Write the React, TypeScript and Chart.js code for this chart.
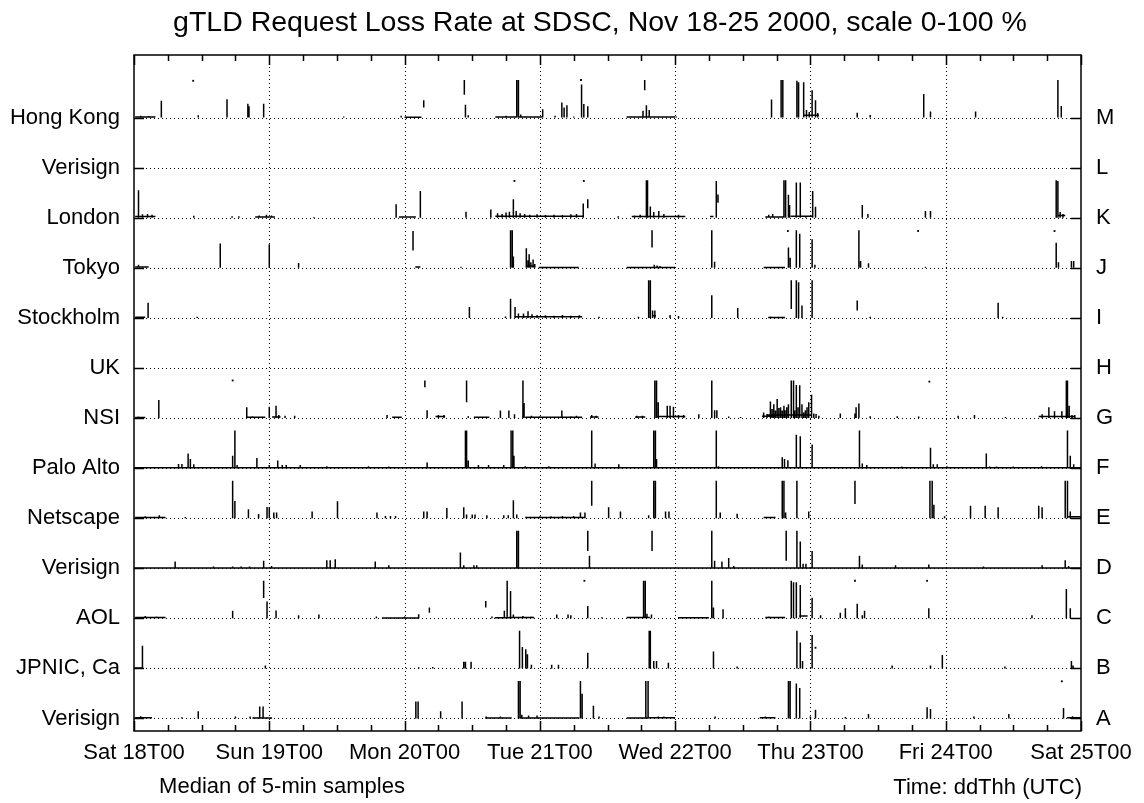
import React, { useEffect, useRef } from "react";
import { Chart, registerables } from "chart.js";

Chart.register(...registerables);

const chartTitle = "gTLD Request Loss Rate at SDSC, Nov 18-25 2000, scale 0-100 %";
const xNote = "Median of 5-min samples";
const xTitle = "Time: ddThh (UTC)";

// bottom (A) to top (M)
const rowNames = ["Verisign", "JPNIC, Ca", "AOL", "Verisign", "Netscape", "Palo Alto", "NSI", "UK", "Stockholm", "Tokyo", "London", "Verisign", "Hong Kong"];
const rowLetters = ["A", "B", "C", "D", "E", "F", "G", "H", "I", "J", "K", "L", "M"];
const dayLabels = ["Sat 18T00", "Sun 19T00", "Mon 20T00", "Tue 21T00", "Wed 22T00", "Thu 23T00", "Fri 24T00", "Sat 25T00"];

// spikes: [hour, loss %]; floats: [hour, low %, high %]; runs: [hour0, hour1, loss %]; dots: [hour, loss %]

// M  Hong Kong
const spikesM = [[1.2, 5], [2.6, 4], [4.85, 45], [11.4, 6], [16.5, 49], [20.2, 37], [20.4, 30], [23.0, 37], [37.2, 3], [47.4, 5], [58.8, 34], [59.3, 6], [66.0, 5], [67.9, 100], [68.2, 100], [68.6, 8], [72.5, 22], [74.7, 5], [75.9, 40], [76.3, 27], [76.8, 33], [78.0, 3], [79.4, 88], [79.8, 36], [80.5, 30], [90.3, 18], [90.9, 33], [91.4, 20], [96.2, 3], [113.1, 48], [114.8, 100], [115.1, 100], [117.6, 98], [117.9, 94], [118.8, 94], [119.3, 20], [119.8, 15], [120.3, 73], [120.9, 46], [121.3, 12], [128.3, 13], [130.6, 7], [140.1, 63], [141.3, 16], [149.3, 16], [163.9, 100], [164.5, 31]];
const floatsM = [[51.4, 27, 46], [58.6, 61, 100], [90.6, 73, 100]];
const runsM = [[0.2, 3.8, 1.5], [48, 51, 1], [64.1, 67.9, 1.5], [68.2, 72.4, 1.5], [87.4, 96, 1.5], [118.9, 121.5, 6]];
const dotsM = [[10.5, 98], [79.3, 100]];

// L  Verisign
const spikesL: number[][] = [];
const floatsL: number[][] = [];
const runsL: number[][] = [];
const dotsL: number[][] = [];

// K  London
const spikesK = [[0.8, 73], [1.5, 9], [2.4, 10], [3.2, 8], [10.6, 5], [17.4, 4], [18.6, 4], [22.2, 6], [23.5, 8], [24.4, 6], [31.9, 2], [46.5, 36], [48, 4], [50.8, 71], [58.9, 16], [63.3, 22], [64.5, 12], [65.3, 10], [66, 14], [66.6, 16], [67.3, 49], [67.8, 18], [68.5, 12], [69.3, 10], [70.2, 8], [71.5, 9], [73, 7], [74.5, 8], [76, 7], [77.5, 9], [78.5, 10], [79.7, 38], [85.9, 4], [88.8, 6], [89.8, 8], [90.9, 100], [91.1, 100], [91.6, 30], [92.2, 15], [93.1, 18], [94, 10], [96.6, 8], [103.3, 98], [112.6, 8], [113.3, 10], [115.3, 100], [115.6, 100], [116.1, 61], [116.3, 34], [117.5, 94], [118.2, 94], [119.2, 6], [120.4, 71], [120.9, 29], [129.2, 34], [130.2, 10], [140.4, 18], [141.3, 18], [163.6, 100], [163.9, 98], [164.3, 15], [164.8, 10]];
const floatsK = [[80.5, 25, 49], [103.6, 40, 62]];
const runsK = [[0.2, 3.8, 3], [21.5, 25, 2], [47, 50, 2], [64.1, 79.8, 4], [88.3, 97.8, 3], [102.2, 102.8, 3], [112, 115.3, 2], [116.5, 120.3, 4], [164, 165.2, 6]];
const dotsK = [[67.5, 98], [79.8, 98]];

// J  Tokyo
const spikesJ = [[0.8, 8], [15.3, 65], [24.0, 63], [29.2, 13], [58, 3], [66.8, 100], [67.1, 100], [67.3, 30], [69.6, 52], [69.9, 20], [70.1, 36], [70.4, 15], [70.8, 22], [71.1, 10], [92.3, 8], [92.8, 6], [93.3, 5], [102.5, 100], [103, 16], [116.1, 54], [116.4, 27], [117.5, 100], [118.1, 91], [120.3, 76], [120.8, 8], [128.6, 100], [128.9, 18], [130.3, 12], [140.4, 3], [163.6, 67], [164, 15], [166.3, 18], [166.7, 18]];
const floatsJ = [[49.5, 46, 98], [91.9, 54, 100]];
const runsJ = [[0.2, 2.6, 2], [49.9, 50.8, 2], [69.7, 71.2, 5], [71.8, 78.9, 1], [87.4, 96, 1], [111.7, 115.5, 1]];
const dotsJ = [[116, 98], [139.1, 98], [163.3, 98]];

// I  Stockholm
const spikesI = [[2.5, 40], [11.2, 3], [59.5, 29], [65.9, 4], [66.8, 51], [67.6, 29], [68.2, 12], [69.1, 12], [69.9, 18], [70.6, 10], [71.5, 8], [73, 7], [74.5, 6], [76, 8], [77.5, 6], [79, 7], [82.5, 3], [89.5, 3], [91.3, 100], [91.6, 100], [92.0, 20], [92.4, 20], [95.1, 8], [96.6, 5], [102.5, 60], [107.1, 26], [113, 4], [117.5, 100], [117.9, 95], [118.5, 33], [120.3, 100], [130.6, 3], [153.3, 40], [154.1, 3]];
const floatsI = [[116.6, 24, 100], [128.3, 20, 46]];
const runsI = [[0.2, 2, 1.5], [67.6, 79.5, 3], [91.9, 92.6, 6], [112.5, 115.5, 1]];
const dotsI: number[][] = [];

// H  UK
const spikesH: number[][] = [];
const floatsH: number[][] = [];
const runsH: number[][] = [];
const dotsH: number[][] = [];

// G  NSI
const spikesG = [[0.8, 4], [4.4, 48], [20, 29], [21, 5], [22, 4], [24, 30], [25.2, 33], [25.7, 8], [26.8, 6], [28.5, 6], [44.9, 8], [46.5, 4], [52, 21], [54, 8], [55, 8], [59.3, 5], [62.9, 4], [65, 20], [66.5, 20], [67.5, 10], [69, 100], [69.2, 40], [70.5, 6], [72, 5], [73.5, 4], [75.9, 20], [77.5, 5], [78.5, 6], [81.2, 8], [82, 6], [89.2, 6], [90.2, 6], [92.4, 100], [92.7, 100], [93, 42], [94.6, 33], [95.1, 33], [95.7, 30], [96.6, 8], [97.5, 8], [100.2, 10], [102.5, 100], [103, 21], [103.4, 21], [105.5, 4], [107.6, 3], [111.7, 15], [112.3, 11], [112.9, 44], [113.2, 24], [113.5, 37], [113.8, 20], [114.1, 51], [114.4, 27], [114.7, 29], [115.0, 20], [115.3, 33], [115.5, 21], [115.8, 29], [116.1, 37], [116.6, 100], [117.0, 100], [117.2, 20], [117.5, 88], [117.8, 29], [118.1, 87], [118.5, 37], [118.8, 15], [119.1, 21], [119.4, 29], [119.7, 42], [120.2, 62], [120.6, 12], [121.0, 11], [121.5, 6], [125.3, 12], [127.9, 12], [128.1, 29], [128.6, 39], [130.6, 5], [135.4, 5], [139.2, 4], [146.2, 6], [149.1, 8], [154.6, 3], [161.1, 10], [162.3, 29], [163.3, 18], [164.6, 18], [165.4, 100], [165.6, 100], [165.9, 33], [166.4, 8], [166.9, 8]];
const floatsG = [[51.6, 82, 100], [59.0, 42, 100]];
const runsG = [[0.2, 2, 1.5], [20, 23.3, 2], [24.5, 26, 3], [45.8, 47.5, 2], [53.5, 55.2, 4], [60.3, 62.9, 2], [69.4, 79.5, 2], [80.9, 82.4, 3], [88.9, 90.7, 3], [92.7, 97.8, 4], [111.4, 113.8, 5], [112.2, 120.3, 8], [160.5, 167, 4]];
const dotsG = [[17.5, 100], [141.1, 97]];

// F  Palo Alto
const spikesF = [[7.9, 11], [8.5, 11], [9.6, 39], [10, 24], [10.6, 10], [17.5, 33], [17.9, 100], [18.3, 8], [21.8, 27], [24, 8], [25.5, 20], [26.3, 8], [27, 8], [29.5, 8], [34.2, 5], [41.6, 5], [45.2, 4], [52, 15], [58.8, 100], [59, 100], [59.3, 20], [61.1, 8], [62.9, 8], [65.6, 8], [66.9, 100], [67.2, 100], [67.4, 33], [69.4, 5], [73.6, 5], [81.2, 100], [81.8, 12], [86, 10], [92.2, 100], [92.5, 100], [92.7, 24], [103.3, 100], [103.7, 5], [115, 29], [115.4, 24], [116, 21], [117.5, 89], [118.2, 85], [120.3, 63], [128.7, 100], [129.2, 12], [130, 8], [136.2, 4], [141.3, 54], [141.8, 10], [142.5, 10], [144.2, 5], [151.2, 39], [151.8, 4], [153, 4], [156, 4], [161, 5], [165.6, 100], [166.1, 33], [166.7, 10]];
const floatsF: number[][] = [];
const runsF = [[0, 168, 1]];
const dotsF: number[][] = [];

// E  Netscape
const spikesE = [[2, 5], [4.5, 8], [9.1, 3], [17.5, 100], [17.9, 46], [20.3, 24], [22.1, 11], [23.6, 30], [24, 30], [24.8, 15], [25.3, 15], [31.6, 18], [36.1, 45], [43.1, 15], [44.6, 6], [45.5, 6], [46.4, 6], [51.4, 18], [52, 18], [55.5, 27], [58.5, 29], [59, 10], [60, 10], [60.5, 10], [62.6, 8], [65.6, 8], [66.4, 8], [67.3, 48], [67.9, 10], [72, 5], [74, 5], [76, 6], [78, 6], [79.2, 15], [80, 15], [84.2, 29], [86.3, 18], [91.3, 8], [92.2, 100], [92.5, 100], [94.3, 18], [94.9, 18], [103.3, 100], [104, 15], [107, 12], [115, 100], [115.3, 100], [115.6, 15], [117.6, 100], [119.7, 18], [141.2, 100], [141.6, 100], [141.9, 36], [143.8, 5], [148.4, 33], [151, 33], [153.3, 29], [160.5, 33], [161.1, 29], [165.2, 100], [165.6, 100], [166.1, 18]];
const floatsE = [[81.2, 33, 100], [127.9, 38, 100]];
const runsE = [[0.2, 5.6, 2], [69.4, 80, 1.5], [111.7, 113.8, 2], [165.5, 168, 4]];
const dotsE: number[][] = [];

// D  Verisign
const spikesD = [[7.3, 18], [14.1, 5], [17.5, 5], [19, 5], [20.5, 5], [23, 20], [24.4, 6], [34.2, 21], [34.8, 21], [35.7, 24], [42.8, 18], [45.2, 8], [57.9, 42], [58.5, 8], [60.3, 8], [60.8, 8], [67.9, 100], [68.2, 100], [80.8, 33], [102.5, 100], [103, 20], [104.3, 18], [105.5, 27], [106.4, 6], [117.6, 100], [118.2, 71], [118.7, 12], [119.2, 12], [120.3, 46], [128.7, 33], [129.2, 10], [135.1, 8], [141, 10], [150.7, 5], [161.1, 8], [165.2, 21], [165.8, 6]];
const floatsD = [[80.5, 46, 100], [91.9, 46, 100], [115.7, 20, 100]];
const runsD = [[0, 168, 1]];
const dotsD: number[][] = [];

// C  AOL
const spikesC = [[2, 6], [4, 5], [17.5, 20], [23.6, 45], [25.2, 21], [29.2, 8], [32.8, 10], [43, 5], [48, 5], [50.5, 11], [63.5, 5], [65.7, 20], [66.2, 100], [66.8, 73], [67.3, 10], [69, 6], [70.5, 5], [75, 10], [77, 10], [77.5, 8], [80.5, 33], [83, 3], [90.4, 100], [90.7, 100], [91, 12], [91.8, 10], [102.5, 100], [102.8, 29], [104.5, 24], [112.6, 5], [116.6, 100], [117, 96], [117.5, 96], [118.2, 89], [120.3, 55], [121.8, 8], [125.3, 15], [126.2, 27], [128.3, 39], [129.2, 8], [129.6, 20], [141, 27], [159.3, 8], [165.4, 78], [166.1, 27]];
const floatsC = [[23, 54, 100], [52.4, 15, 29], [62.4, 29, 46]];
const runsC = [[0.2, 5.6, 2], [44, 50.5, 1], [64, 67, 1.5], [66.5, 71, 2], [87.4, 91.5, 2], [96.5, 102, 1.5], [112, 115.5, 2], [118, 119.5, 6]];
const dotsC = [[79.9, 100], [127.9, 100], [140.7, 100]];

// B  JPNIC, Ca
const spikesB = [[1.5, 60], [23.3, 8], [50.5, 3], [53, 4], [58.5, 18], [58.8, 18], [59.8, 18], [68.4, 100], [68.9, 57], [69.5, 51], [69.8, 38], [70.5, 10], [74.1, 10], [75.3, 10], [80.5, 42], [91.4, 100], [91.6, 100], [92.2, 20], [92.7, 20], [94.8, 15], [102.8, 45], [107, 5], [117.6, 100], [118.2, 69], [118.6, 20], [120.3, 89], [134.5, 8], [141.3, 8], [143.4, 36], [154.5, 5], [166.3, 20], [166.6, 8]];
const floatsB: number[][] = [];
const runsB = [[0, 1.5, 1]];
const dotsB = [[120.9, 55]];

// A  Verisign
const spikesA = [[1.2, 6], [8.5, 3], [11.4, 19], [18, 5], [20.6, 5], [22.3, 32], [22.9, 32], [50, 45], [50.4, 45], [54.4, 19], [58.2, 45], [62.5, 5], [65, 5], [68.2, 100], [68.5, 100], [68.8, 10], [70, 8], [71.5, 8], [79.2, 100], [79.5, 66], [81.5, 34], [82.5, 5], [90.8, 100], [91.2, 100], [93, 5], [94, 5], [103.1, 5], [112, 5], [116.1, 100], [116.4, 100], [117.5, 93], [118.1, 81], [120, 5], [120.9, 23], [126.2, 4], [130.3, 12], [140.7, 30], [141.3, 25], [149, 5], [155.2, 12], [164.9, 28], [166.5, 6]];
const floatsA: number[][] = [];
const runsA = [[0.2, 3.2, 2], [21, 24.5, 1.5], [62.3, 67, 1.5], [68.5, 79, 1.5], [87.4, 91.2, 1.5], [91.2, 96, 2], [111, 113.8, 2], [165.5, 168, 2]];
const dotsA = [[164.6, 99]];

const FONT = '"Liberation Sans", Arial, Helvetica, sans-serif';
const ROW_SCALE = 0.75; // fraction of row spacing representing 100 %

const decorations = {
  id: "decorations",
  beforeDatasetsDraw(chart: any) {
    const { ctx, chartArea: a, scales } = chart;
    const xs = scales.x, ys = scales.y;
    ctx.save();
    ctx.strokeStyle = "#000";
    ctx.lineWidth = 1;
    ctx.setLineDash([1, 3]);
    ctx.beginPath();
    for (let d = 1; d < dayLabels.length - 1; d++) {
      const px = Math.round(xs.getPixelForValue(d * 24)) + 0.5;
      ctx.moveTo(px, a.top);
      ctx.lineTo(px, a.bottom);
    }
    rowNames.forEach((_, r) => {
      const py = Math.round(ys.getPixelForValue(r)) + 0.5;
      ctx.moveTo(a.left, py);
      ctx.lineTo(a.right, py);
    });
    ctx.stroke();
    ctx.restore();
  },
  afterDatasetsDraw(chart: any) {
    const { ctx, chartArea: a, scales } = chart;
    const xs = scales.x, ys = scales.y;
    ctx.save();
    ctx.setLineDash([]);
    ctx.strokeStyle = "#000";
    ctx.lineWidth = 1.5;
    ctx.strokeRect(a.left, a.top, a.right - a.left, a.bottom - a.top);
    ctx.beginPath();
    for (let h = 0; h <= (dayLabels.length - 1) * 24; h += 6) {
      const px = Math.round(xs.getPixelForValue(h)) + 0.5;
      const len = h % 24 === 0 ? 10 : 6;
      ctx.moveTo(px, a.bottom);
      ctx.lineTo(px, a.bottom - len);
      ctx.moveTo(px, a.top);
      ctx.lineTo(px, a.top + len);
    }
    rowNames.forEach((_, r) => {
      const py = Math.round(ys.getPixelForValue(r)) + 0.5;
      ctx.moveTo(a.left, py);
      ctx.lineTo(a.left + 10, py);
      ctx.moveTo(a.right, py);
      ctx.lineTo(a.right - 10, py);
    });
    ctx.stroke();

    ctx.fillStyle = "#000";
    ctx.font = "22px " + FONT;
    ctx.textBaseline = "middle";
    rowNames.forEach((name, r) => {
      const py = ys.getPixelForValue(r);
      ctx.textAlign = "right";
      ctx.fillText(name, a.left - 14, py);
      ctx.textAlign = "left";
      ctx.fillText(rowLetters[r], a.right + 15, py);
    });
    ctx.textAlign = "center";
    dayLabels.forEach((lbl, d) => {
      ctx.fillText(lbl, xs.getPixelForValue(d * 24), a.bottom + 22);
    });
    ctx.fillText(xNote, 282, a.bottom + 56);
    ctx.textAlign = "right";
    ctx.fillText(xTitle, a.right + 1, a.bottom + 57);
    ctx.textAlign = "center";
    ctx.font = "28.5px " + FONT;
    ctx.fillText(chartTitle, 600, 23);
    ctx.restore();
  },
};

export default function App() {
  const ref = useRef<HTMLCanvasElement | null>(null);
  useEffect(() => {
    const rows = [
      { spikes: spikesA, floats: floatsA, runs: runsA, dots: dotsA },
      { spikes: spikesB, floats: floatsB, runs: runsB, dots: dotsB },
      { spikes: spikesC, floats: floatsC, runs: runsC, dots: dotsC },
      { spikes: spikesD, floats: floatsD, runs: runsD, dots: dotsD },
      { spikes: spikesE, floats: floatsE, runs: runsE, dots: dotsE },
      { spikes: spikesF, floats: floatsF, runs: runsF, dots: dotsF },
      { spikes: spikesG, floats: floatsG, runs: runsG, dots: dotsG },
      { spikes: spikesH, floats: floatsH, runs: runsH, dots: dotsH },
      { spikes: spikesI, floats: floatsI, runs: runsI, dots: dotsI },
      { spikes: spikesJ, floats: floatsJ, runs: runsJ, dots: dotsJ },
      { spikes: spikesK, floats: floatsK, runs: runsK, dots: dotsK },
      { spikes: spikesL, floats: floatsL, runs: runsL, dots: dotsL },
      { spikes: spikesM, floats: floatsM, runs: runsM, dots: dotsM },
    ];
    const datasets: any[] = [];
    rows.forEach((row, r) => {
      const yv = (p: number) => r + (p / 100) * ROW_SCALE;
      const pts: any[] = [];
      row.runs.forEach(([h0, h1, p]) => {
        pts.push({ x: h0, y: yv(p) }, { x: h1, y: yv(p) }, { x: h1, y: null });
      });
      row.spikes.forEach(([h, p]) => {
        pts.push({ x: h, y: r }, { x: h, y: yv(p) }, { x: h, y: null });
      });
      row.floats.forEach(([h, lo, hi]) => {
        pts.push({ x: h, y: yv(lo) }, { x: h, y: yv(hi) }, { x: h, y: null });
      });
      datasets.push({
        type: "line",
        data: pts,
        borderColor: "#000",
        borderWidth: 1.5,
        pointRadius: 0,
        spanGaps: false,
        tension: 0,
        fill: false,
      });
      if (row.dots.length) {
        datasets.push({
          type: "scatter",
          data: row.dots.map(([h, p]) => ({ x: h, y: yv(p) })),
          pointStyle: "rect",
          pointRadius: 1.3,
          backgroundColor: "#000",
          borderWidth: 0,
          showLine: false,
        });
      }
    });
    const chart = new Chart(ref.current as HTMLCanvasElement, {
      type: "line",
      data: { datasets },
      options: {
        responsive: false,
        animation: false,
        devicePixelRatio: 1,
        events: [],
        layout: { padding: { left: 134, right: 63, top: 55, bottom: 72 } },
        plugins: { legend: { display: false }, tooltip: { enabled: false }, title: { display: false } },
        elements: { line: { borderCapStyle: "butt", borderJoinStyle: "miter" } },
        scales: {
          x: { type: "linear", min: 0, max: (dayLabels.length - 1) * 24, display: false },
          y: { type: "linear", min: -0.25, max: rowNames.length + 0.25, display: false },
        },
      } as any,
      plugins: [decorations],
    });
    return () => chart.destroy();
  }, []);
  return (
    <div style={{ position: "absolute", left: 0, top: 0, width: 1144, height: 803, background: "#fff" }}>
      <canvas ref={ref} width={1144} height={803} style={{ display: "block" }} />
    </div>
  );
}
